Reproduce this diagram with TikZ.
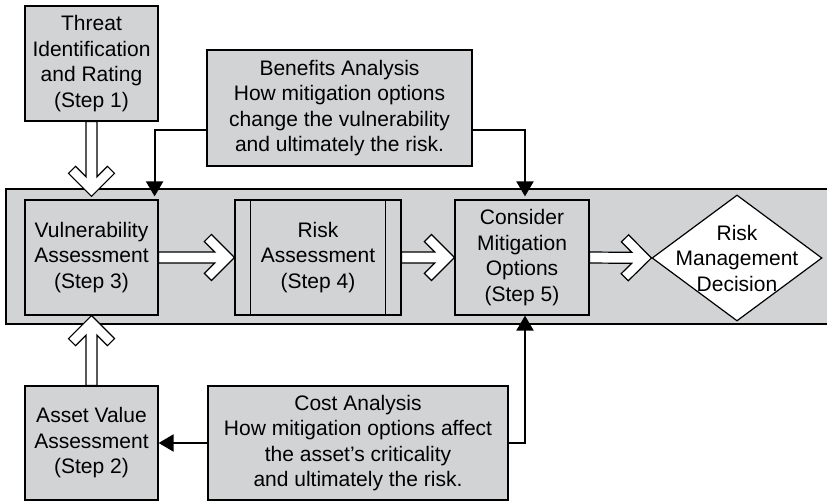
\documentclass[tikz,border=0pt]{standalone}
\usepackage{fontspec}
\setmainfont{Liberation Sans}
\usetikzlibrary{arrows.meta,calc,shapes.geometric}
\definecolor{boxgray}{RGB}{210,211,213}

\begin{document}
\begin{tikzpicture}[x=1pt,y=-1pt,>={Triangle[length=15pt,width=17pt]},
  line width=1.2pt,font=\fontsize{21}{25.5}\selectfont,
  step box/.style={rectangle,draw,fill=boxgray,align=center,inner sep=0pt,
    minimum width=133pt,minimum height=115pt},
  band/.style={rectangle,draw,fill=boxgray,minimum width=844pt,minimum height=135pt},
  decision/.style={diamond,draw,fill=white,inner sep=0pt,
    minimum width=170pt,minimum height=126pt},
  feedback/.style={->,line width=2pt},
  tipframe/.style={shift={(\p2)},rotate=\n1},
  hollow/.style={fill=white,line join=miter,
    to path={let \p1=(\tikztostart),\p2=(\tikztotarget),
      \n1={atan2(\y2-\y1,\x2-\x1)},\n2={veclen(\x2-\x1,\y2-\y1)} in
      ([tipframe]-\n2,5.5) -- ([tipframe]-19.6,5.5) -- ([tipframe]-30.1,15.9)
      -- ([tipframe]-23,23) -- ([tipframe]0,0) -- ([tipframe]-23,-23)
      -- ([tipframe]-30.1,-15.9) -- ([tipframe]-19.6,-5.5) -- ([tipframe]-\n2,-5.5) -- cycle}}]

\useasboundingbox (0,0) rectangle (827,502);
\clip (0,0) rectangle (827,502);

\node[band](band) at (428,256.5) {};

\node[step box](Threat) at (91.5,63.5) {Threat\\Identification\\and Rating\\(Step 1)};
\node[step box,minimum width=265pt,minimum height=116pt](Benefits) at (339.5,108)
  {Benefits Analysis\\How mitigation options\\change the vulnerability\\and ultimately the risk.};
\node[step box](Vuln) at (91.5,257.5) {Vulnerability\\Assessment\\(Step 3)};
\node[step box,minimum width=166pt](Risk) at (318,257.5) {Risk\\Assessment\\(Step 4)};
\node[step box,minimum width=134pt](Consider) at (522,257.5) {Consider\\Mitigation\\Options\\(Step 5)};
\node[decision](RMD) at (737,258) {};
\node[align=center](RMDtext) at (RMD) {Risk\\Management\\Decision};
\node[step box,minimum height=114pt](Asset) at (91.5,443) {Asset Value\\Assessment\\(Step 2)};
\node[step box,minimum width=300pt,minimum height=114pt](Cost) at (358,443)
  {Cost Analysis\\How mitigation options affect\\the asset's criticality\\and ultimately the risk.};

\draw ([xshift=16pt]Risk.north west) -- ([xshift=16pt]Risk.south west);
\draw ([xshift=-16pt]Risk.north east) -- ([xshift=-16pt]Risk.south east);

\draw[hollow] (Threat.south) to ([yshift=3pt]Vuln.north);
\draw[hollow] (Asset.north) to (Vuln.south);
\draw[hollow] (Vuln.east) to (Risk.west);
\draw[hollow] (Risk.east) to (Consider.west);
\draw[hollow] (Consider.east) to (RMD.west);

\draw[feedback] ([yshift=-22pt]Benefits.west) -| ([xshift=-4pt,yshift=3pt]Vuln.north east);
\draw[feedback] ([yshift=-22pt]Benefits.east) -| ([xshift=3pt,yshift=3pt]Consider.north);
\draw[feedback] (Cost.west) -- (Asset.east);
\draw[feedback] (Cost.east) -| ([xshift=3pt]Consider.south);

\end{tikzpicture}
\end{document}
